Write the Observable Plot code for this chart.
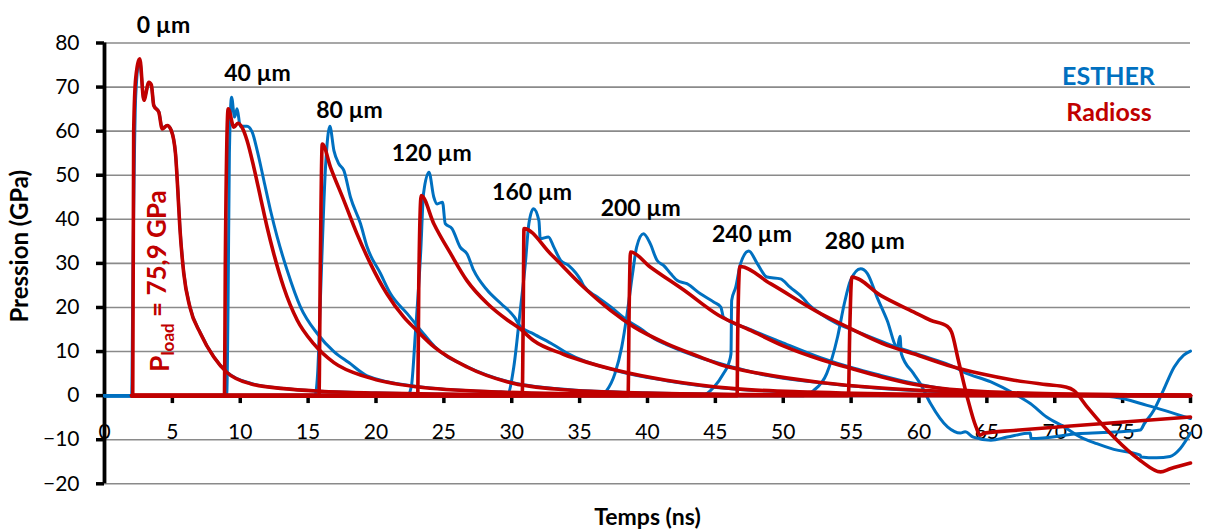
<!DOCTYPE html>
<html><head><meta charset="utf-8">
<script src="https://cdn.jsdelivr.net/npm/d3@7"></script>
<script src="https://cdn.jsdelivr.net/npm/@observablehq/plot@0.6"></script>
<style>body{margin:0;background:#fff;}</style>
</head><body><div id="chart"></div>
<script>
// ---- data (time in ns, pressure in GPa) ----
const xTicks = [0,5,10,15,20,25,30,35,40,45,50,55,60,65,70,75,80];
const yTicks = [-20,-10,0,10,20,30,40,50,60,70,80];
const thicknessLabels = ["0 µm","40 µm","80 µm","120 µm","160 µm","200 µm","240 µm","280 µm"];
const labelTimes = [4.35,11.27,18.05,24.1,31.5,39.5,47.7,56.0];
const labelPressures = [84.0,73.1,64.7,54.9,46.1,42.5,36.6,35.0];
const legendNames = ["ESTHER","Radioss"];
const legendTimes = [73.96,74.0];
const legendPressures = [72.2,64.2];
const loadTime = 4.13, loadPressure = 25.9;

const esther0 = [[0,0],[2.0,0],[2.1,30],[2.3,68],[2.58,76.3],[2.9,67.2],[3.27,71.0],[3.45,70.4],[3.63,65.9],[4.0,64.4],[4.25,60.7],[4.62,61.3],[4.91,60.3],[5.23,55],[5.4,46.8],[5.55,38.5],[5.84,27.9],[6.29,20.2],[7.07,14.2],[8.05,8.8],[9.04,5.3],[10.75,2.8],[13.2,1.6],[15.9,1.0],[20,0.6],[25,0.3],[30,0.1],[40,0],[80,0]];
const esther40 = [[0,0],[9.0,0],[9.1,20],[9.2,55],[9.36,67.7],[9.58,63.2],[9.77,65.1],[10.0,61.1],[10.5,61.1],[10.88,59.8],[11.25,55.6],[11.74,48.8],[12.23,42],[12.72,36],[13.46,28.4],[14.44,20.1],[15.67,14.1],[16.9,10.0],[18,7.5],[19.35,4.5],[23,2.1],[29.2,0.8],[35,0.4],[45,0.1],[80,0]];
const esther80 = [[0,0],[15.5,0],[15.7,5],[15.9,21.6],[16.28,51.8],[16.6,61.1],[16.9,55.6],[17.26,52.6],[17.63,51.1],[18.12,45.0],[18.86,39.0],[19.35,33.7],[20.33,27.7],[21.07,23.1],[22.3,18.6],[23.6,13.7],[24.3,11.2],[26.7,6.6],[29.7,3.2],[33.6,1.5],[40,0.6],[50,0.2],[80,0]];
const esther120 = [[0,0],[22.3,0],[22.6,2],[22.9,14.1],[23.3,33],[23.5,45.8],[23.9,50.7],[24.26,45],[24.5,43.5],[24.9,43.9],[25.1,39.0],[25.6,37.9],[26.2,33.7],[26.7,32.2],[27.2,28.4],[28.2,23.9],[29.2,20.9],[30.2,17.8],[30.6,15.8],[31.6,14.0],[33.1,11.5],[34.1,9.6],[37.8,5.6],[41.4,3.4],[46.4,1.5],[52,0.7],[60,0.2],[80,0]];
const esther160 = [[0,0],[29.2,0.2],[29.7,0.4],[30.15,6.5],[30.6,18.6],[31.0,29.9],[31.26,39],[31.6,42.4],[32.0,39.7],[32.1,35.6],[32.7,36.0],[33.1,33.7],[33.6,30.7],[34.2,29.5],[35.1,26.1],[35.3,24.9],[36.3,22.4],[37.3,20.1],[38.5,17.1],[39.5,15.2],[40.5,12.9],[41.4,11.6],[43.9,8.6],[46.4,6.4],[48.3,4.9],[52.75,2.9],[57,1.7],[62.6,0.8],[70,0.2],[80,0]];
const esther200 = [[0,0],[36.5,0],[37.0,1.2],[37.6,5.0],[38.1,11.0],[38.5,18.6],[38.9,27.7],[39.2,33.7],[39.7,36.7],[40.2,34.5],[40.7,30.7],[41.2,29.5],[41.7,27.7],[42.2,26.1],[42.9,25.4],[43.9,23.1],[44.9,21.2],[45.4,20.1],[45.6,17.8],[47.6,15.0],[49.8,12.2],[52.75,8.6],[55.2,6.2],[57.2,4.6],[59.6,2.8],[63.3,1.0],[68,0.4],[72,0.1],[74.35,-0.3],[76.8,-2.2],[80,-5.2]];
const esther240 = [[0,0],[44.0,0],[44.9,1.95],[45.6,5.0],[46.0,7.5],[46.15,9.5],[46.2,21.6],[46.5,24.6],[46.85,29.9],[47.46,32.8],[48.1,29.9],[48.8,26.9],[49.8,26.5],[50.5,24.6],[51.5,22.0],[51.8,20.9],[52.75,18.6],[54.0,16.3],[55.2,14.8],[57.65,11.8],[60,9.3],[62.6,6.5],[63.3,5.35],[65.3,3.1],[67.0,0.45],[68.2,-1.8],[69.4,-4.85],[70.7,-7.1],[71.9,-9.4],[73.1,-10.9],[74.35,-12.2],[76.3,-13.5],[76.35,-13.9],[77.5,-14.1],[78.5,-13.8],[79.25,-12.0],[80,-8.5]];
const esther280 = [[0,0],[51.5,0],[52.25,1.2],[53.2,5.0],[54.0,13.3],[54.5,20.9],[54.95,26.1],[55.7,28.8],[56.2,27.7],[56.9,22.4],[57.65,17.1],[58.4,11.0],[58.6,13.5],[58.7,9.5],[59.6,5.0],[60.1,2.7],[60.85,-1.8],[62.1,-7.1],[63.05,-8.5],[63.4,-8.2],[64.0,-9.4],[65.3,-10.1],[66.5,-9.4],[68.2,-8.5],[68.25,-9.75],[71.9,-8.6],[74.4,-8.25],[76.3,-7.8],[76.6,-6.35],[77.3,-3.3],[78.0,1.2],[78.8,6.5],[79.5,9.2],[80,10.1]];

const radioss0 = [[2.0,0],[2.08,0],[2.15,60],[2.3,72],[2.6,76.4],[2.9,67],[3.27,71.1],[3.45,70.5],[3.63,65.8],[4.0,64.3],[4.25,60.5],[4.62,61.3],[4.91,60.2],[5.23,54.9],[5.4,46.6],[5.55,38.2],[5.84,27.7],[6.29,20.1],[7.07,14.1],[8.05,8.75],[9.04,5.2],[10.75,2.7],[13.2,1.6],[15.9,1.0],[20,0.6],[25,0.35],[30,0.2],[40,0.05],[80,0]];
const radioss40 = [[2,0],[8.84,0],[8.9,30],[9.11,65.1],[9.53,60.9],[9.82,61.8],[10.14,60.8],[10.5,57.9],[11.0,51.8],[11.49,45.0],[11.98,38.2],[12.47,32.2],[13.2,24.6],[14.2,17.1],[15.4,11.8],[16.9,7.5],[19.35,4.2],[23,2.0],[29.2,0.8],[35,0.4],[45,0.1],[80,0]];
const radioss80 = [[2,0],[15.8,0],[15.9,30],[16.04,57.1],[16.65,51.8],[17.63,44.3],[18.6,36.7],[19.6,29.9],[20.8,23.1],[22.05,17.8],[23.0,14.8],[24.3,11.0],[26.7,6.5],[29.7,3.1],[33.6,1.4],[40,0.6],[50,0.2],[60,0.05],[80,0]];
const radioss120 = [[2,0],[23.08,0],[23.15,25],[23.33,45.4],[24.26,39.0],[25.5,32.2],[26.7,26.1],[28.2,20.9],[29.7,17.1],[30.6,15.2],[31.6,12.5],[33.8,9.4],[37.8,5.7],[41.4,3.5],[46.4,1.6],[52,0.8],[60,0.3],[70,0.1],[80,0]];
const radioss160 = [[2,0],[30.77,0],[30.85,20],[30.9,37.9],[32.85,32.2],[35.3,24.6],[37.3,19.3],[39.0,15.6],[41.4,11.8],[43.9,8.75],[45.4,7.0],[48.3,5.0],[52.75,3.0],[57,1.8],[62.6,0.9],[70,0.3],[80,0.1]];
const radioss200 = [[2,0],[38.57,0],[38.65,20],[38.75,32.6],[40.2,29.2],[42.7,23.9],[45.2,18.3],[47.6,14.8],[50.0,11.3],[52.75,8.2],[55.2,6.0],[57.2,4.3],[59.6,2.6],[63.3,1.2],[70,0.4],[80,0.1]];
const radioss240 = [[2,0],[46.6,0],[46.65,15],[46.8,29.3],[49.06,25.4],[52.75,18.6],[54.7,15.6],[57.65,11.4],[59.6,9.5],[62.1,6.9],[64.5,5.0],[67.0,3.5],[69.4,2.5],[70.8,1.95],[71.4,1.2],[72.4,-2.6],[74.35,-9.4],[76.3,-14.7],[77.8,-17.3],[78.5,-16.6],[80,-15.3]];
const radioss280 = [[2,0],[54.8,0],[54.9,15],[55.05,26.9],[57.2,22.7],[59.6,19.0],[60.85,17.1],[62.1,15.7],[62.4,14.4],[62.9,8.0],[63.55,-0.3],[64.2,-7.1],[64.5,-9.0],[64.8,-8.5],[67.0,-7.9],[71.9,-6.7],[80,-4.85]];

// ---- tables ----
const estherSeries = [esther0,esther40,esther80,esther120,esther160,esther200,esther240,esther280];
const radiossSeries = [radioss0,radioss40,radioss80,radioss120,radioss160,radioss200,radioss240,radioss280];
const toRows = (series) => series.flatMap((s, i) => s.map(([t, p]) => ({t, p, curve: thicknessLabels[i]})));
const estherRows = toRows(estherSeries);
const radiossRows = toRows(radiossSeries);
const labelRows = thicknessLabels.map((l, i) => ({l, t: labelTimes[i], p: labelPressures[i]}));
const legendRows = legendNames.map((l, i) => ({l, t: legendTimes[i], p: legendPressures[i]}));

const BLUE = "#0070C0", RED = "#C00000";

const chart = Plot.plot({
  width: 1210, height: 532,
  marginLeft: 104, marginRight: 20, marginTop: 42.5, marginBottom: 48.7,
  style: {fontFamily: "Lato", fontSize: "21px", color: "black", background: "white"},
  x: {domain: [0, 80], axis: null},
  y: {domain: [-20, 80], ticks: yTicks},
  marks: [
    Plot.gridY(yTicks, {stroke: "#8a8a8a", strokeOpacity: 1, strokeWidth: 1.6}),
    Plot.axisY(yTicks, {tickSize: 8, strokeWidth: 3.5, tickPadding: 17, fontSize: 21, label: null}),
    Plot.ruleX([0], {y1: -20, y2: 80, stroke: "black", strokeWidth: 3.8}),
    Plot.ruleY([0], {x1: 0, x2: 80, stroke: "black", strokeWidth: 2}),
    Plot.ruleX(xTicks.filter(d => d > 0), {x: d => d, y1: 0, y2: -1.8, stroke: "black", strokeWidth: 3.5}),
    Plot.text(xTicks, {x: d => d, y: -8.3, text: d => String(d), fontSize: 21}),
    Plot.line(estherRows, {x: "t", y: "p", z: "curve", stroke: BLUE, strokeWidth: 3, curve: "monotone-x"}),
    Plot.line(radiossRows, {x: "t", y: "p", z: "curve", stroke: RED, strokeWidth: 3.6, curve: "monotone-x"}),
    Plot.text(labelRows, {x: "t", y: "p", text: "l", fontWeight: "bold", fontSize: 23}),
    Plot.text(legendRows, {x: "t", y: "p", text: "l", fontWeight: "bold", fontSize: 25, fill: (d, i) => i === 0 ? BLUE : RED}),
    Plot.text(["Pression (GPa)"], {x: -6.19, y: 33.9, text: d => d, rotate: -90, fontWeight: "bold", fontSize: 24}),
    Plot.text(["Temps (ns)"], {x: 40, y: -27.7, text: d => d, fontWeight: "bold", fontSize: 23})
  ]
});

// P_load annotation with subscript, positioned through the chart's scales
const sx = chart.scale("x"), sy = chart.scale("y");
const px = sx.apply(loadTime), py = sy.apply(loadPressure);
const t = d3.select(chart).append("text")
  .attr("transform", `translate(${px},${py}) rotate(-90)`)
  .attr("text-anchor", "middle").attr("dy", "0.35em")
  .attr("fill", RED).attr("font-family", "Lato").attr("font-weight", "bold").attr("font-size", 26);
t.append("tspan").text("P");
t.append("tspan").attr("font-size", 17).attr("dy", "0.3em").text("load");
t.append("tspan").attr("dy", "-0.3em").text(" = 75,9 GPa");

document.getElementById("chart").appendChild(chart);
</script>
</body></html>
